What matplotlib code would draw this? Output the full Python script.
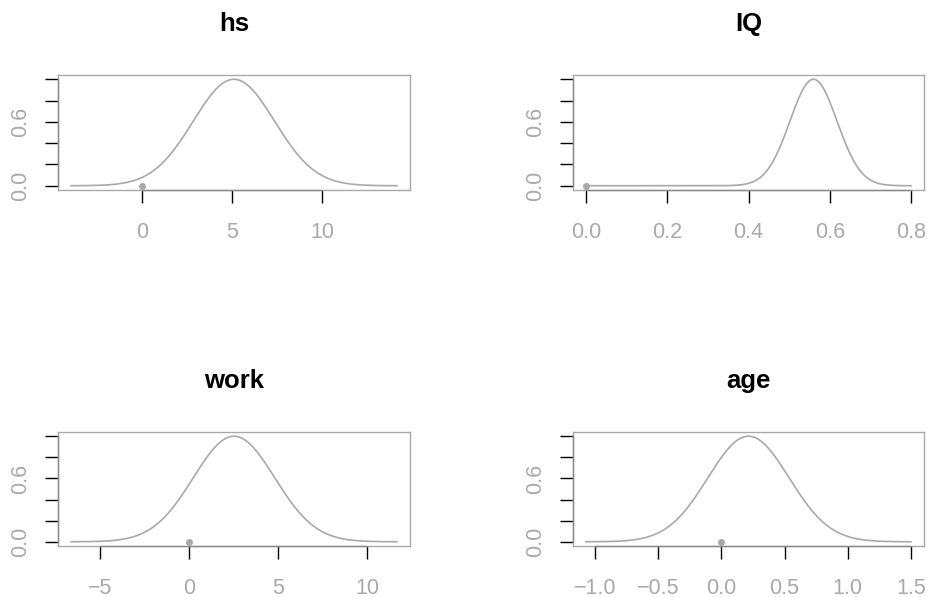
import numpy as np
import matplotlib
matplotlib.use("Agg")
import matplotlib.pyplot as plt

plt.rcParams['font.family'] = ['Liberation Sans', 'DejaVu Sans']

# panel data
names = ['hs', 'IQ', 'work', 'age']
means = [5.11, 0.56, 2.53, 0.215]
sds = [2.26, 0.058, 2.29, 0.321]
x_lo = [-3.94, 0.0, -6.63, -1.07]
x_hi = [14.17, 0.8, 11.69, 1.50]
point_x = [0, 0, 0, 0]
point_y = [0, 0, 0, 0]
xticks = [[0, 5, 10],
          [0.0, 0.2, 0.4, 0.6, 0.8],
          [-5, 0, 5, 10],
          [-1.0, -0.5, 0.0, 0.5, 1.0, 1.5]]
xticklabels = [['0', '5', '10'],
               ['0.0', '0.2', '0.4', '0.6', '0.8'],
               ['\u22125', '0', '5', '10'],
               ['\u22121.0', '\u22120.5', '0.0', '0.5', '1.0', '1.5']]
yticks = [0.0, 0.2, 0.4, 0.6, 0.8, 1.0]
yticklabels = ['0.0', '', '', '0.6', '', '']

W, H = 927, 597
GRAY = '#a9a9a9'
boxes = [(58, 75, 410, 190), (573, 75, 924, 190),
         (58, 432, 410, 546), (573, 432, 924, 546)]

fig = plt.figure(figsize=(W / 100, H / 100), dpi=100)

for i, (x0, y0, x1, y1) in enumerate(boxes):
    ax = fig.add_axes([x0 / W, 1 - y1 / H, (x1 - x0) / W, (y1 - y0) / H])
    lo, hi = x_lo[i], x_hi[i]
    xs = np.linspace(lo, hi, 400)
    ys = np.exp(-0.5 * ((xs - means[i]) / sds[i]) ** 2)
    ax.plot(xs, ys, color=GRAY, linewidth=1.2)
    ax.plot(point_x[i], point_y[i], 'o', color=GRAY, markersize=4, zorder=3)

    pad = 0.04 * (hi - lo)
    ax.set_xlim(lo - pad, hi + pad)
    ax.set_ylim(-0.04, 1.04)

    for s in ax.spines.values():
        s.set_color(GRAY)
        s.set_linewidth(1)

    # axis lines from first to last tick (R style)
    t = xticks[i]
    ax.plot([t[0], t[-1]], [-0.04, -0.04], color='#8a8a8a', linewidth=1,
            clip_on=False, zorder=4)
    ax.plot([lo - pad, lo - pad], [0, 1], color='#8a8a8a', linewidth=1,
            clip_on=False, zorder=4)

    ax.set_xticks(t)
    ax.set_xticklabels(xticklabels[i])
    ax.set_yticks(yticks)
    ax.set_yticklabels(yticklabels, rotation=90, va='center')
    ax.tick_params(axis='both', colors='black', labelcolor=GRAY,
                   length=9.5, width=1, labelsize=15.5)
    ax.tick_params(axis='x', pad=13.5)
    ax.tick_params(axis='y', pad=9.5)

    fig.text((x0 + x1) / 2 / W, 1 - (y0 - 44) / H, names[i],
             ha='center', va='baseline', fontsize=18.5, fontweight='bold')

fig.savefig('out.png', dpi=100)
